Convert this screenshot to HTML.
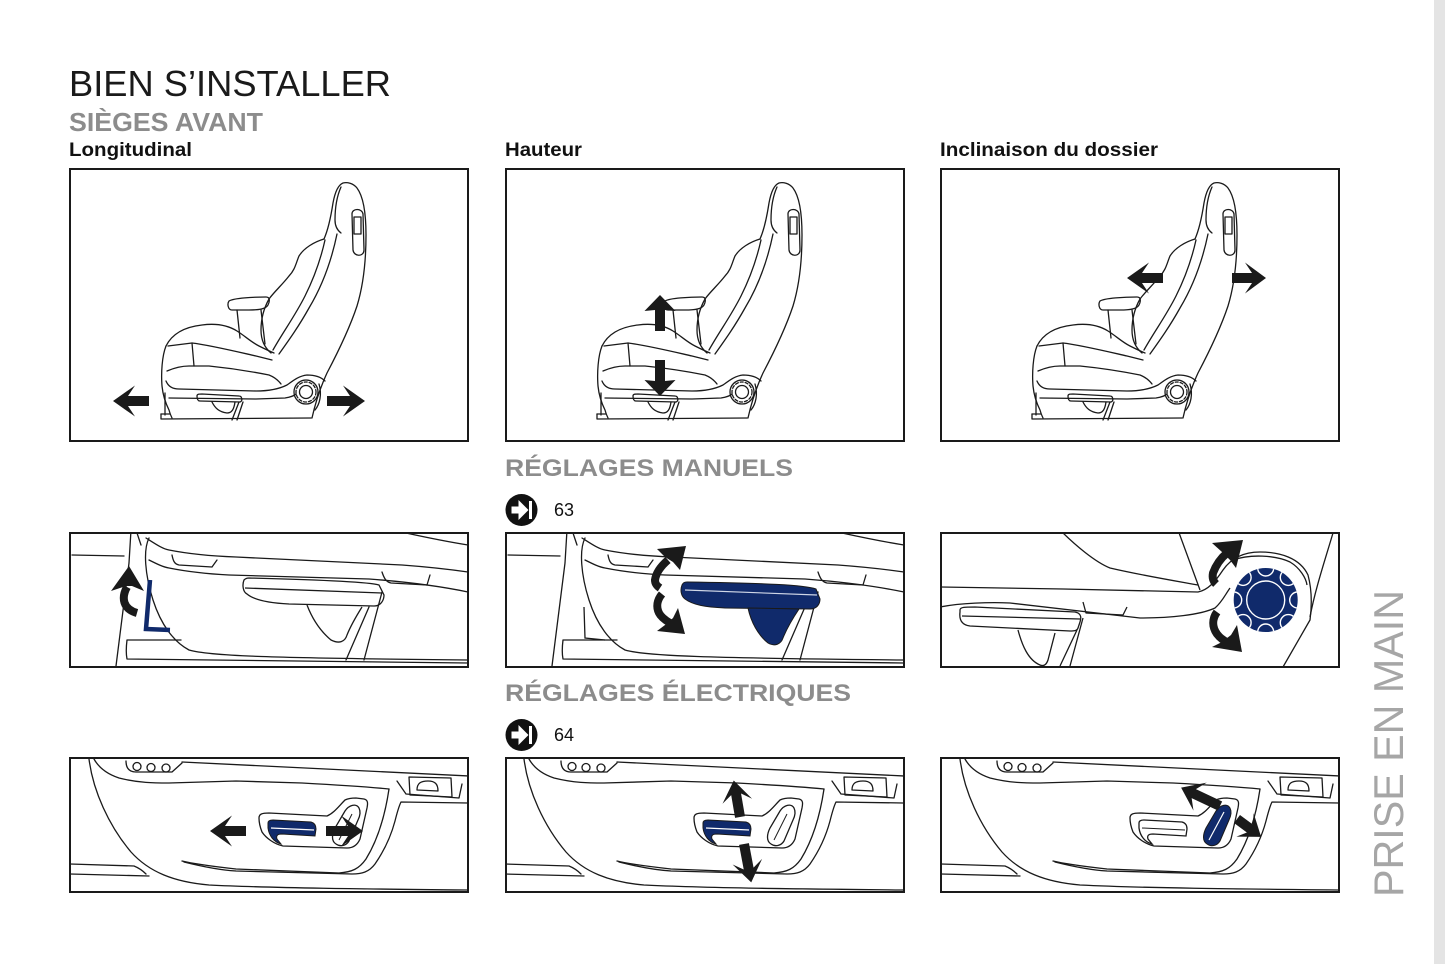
<!DOCTYPE html>
<html><head><meta charset="utf-8"><style>
html,body{margin:0;padding:0;background:#fff;}
svg{display:block;}
text{font-family:"Liberation Sans",Arial,sans-serif;}
</style></head><body>
<svg width="1445" height="964" viewBox="0 0 1445 964" xmlns="http://www.w3.org/2000/svg">
<defs>
<clipPath id="cpR2" clipPathUnits="userSpaceOnUse"><rect x="1" y="3" width="398" height="134"/></clipPath>
<clipPath id="cpR3" clipPathUnits="userSpaceOnUse"><rect x="1" y="2" width="398" height="134"/></clipPath>
<clipPath id="knobClip" clipPathUnits="userSpaceOnUse"><circle cx="325.7" cy="70" r="32"/></clipPath>

<g id="seat" fill="none" stroke="#1a1a1a" stroke-width="1.3" stroke-linejoin="round" stroke-linecap="round">
 <path d="M243,250 C247,232 252,218 258,205 C268,186 280,162 288,138 C295,115 297,90 297,67 C297,45 294,28 288,20 C284,15 278,14 274,15 C269,17 266,24 264,35 C262,48 259,62 255,71"/>
 <path d="M272,19 C268,28 266,40 266,52 C266,58 268,62 272,65"/>
 <path d="M283,46 C283,40 293,40 294,46 L295,82 C295,89 285,89 284,82 Z"/>
 <path d="M285,49 L292,49 L292,66 L285,66 Z"/>
 <path d="M255,71 C245,74 235,80 230,88 C227,95 226,102 220,108 C213,117 205,124 200,131 C195,140 192,150 192,162 C192,172 196,180 202,185"/>
 <path d="M256,72 C252,90 246,108 236,128 C226,148 214,164 204,182"/>
 <path d="M268,66 C262,95 252,120 240,140 C230,158 220,172 210,186"/>
 <path d="M160,133 C165,130 185,129 197,129 C201,129 201,133 199,137 C197,141 190,142 180,142 L163,142 C159,142 158,136 160,133 Z"/>
 <path d="M168,142 L171,170"/>
 <path d="M192,142 L196,176"/>
 <path d="M97,178 C103,166 115,159 133,157 C148,155 160,158 168,163 C176,168 182,174 190,178 C196,181 200,183 205,185"/>
 <path d="M97,178 C93,188 92,205 93,218 C94,228 97,236 100,242 C101,246 102,248 103,250"/>
 <path d="M99,178 L123,175 C140,177 165,183 187,188 L203,192"/>
 <path d="M123,175 L125,198"/>
 <path d="M98,203 C105,200 112,198 120,198 L140,198 C160,200 180,203 200,207 C205,209 209,212 212,216"/>
 <path d="M97,213 C99,218 103,221 110,221 L187,223 C200,223 210,221 218,217 C225,212 230,208 238,207 C246,207 252,209 256,213"/>
 <path d="M100,230 L187,231 L216,230 C222,229 225,228 227,226"/>
 <path d="M96,225 L96,247"/>
 <path d="M128,228 C128,226 130,226 133,226 L170,228 C173,228 174,233 171,234 L131,233 C129,233 128,231 128,228 Z"/>
 <path d="M143,234 C146,240 150,244 158,245 C163,245 165,241 166,234"/>
 <path d="M170,234 L163,252 M174,234 L168,252"/>
 <path d="M92,246 L92,251 L242,250"/>
 <path d="M92,246 L101,246"/>
 <circle cx="237" cy="224" r="12"/>
 <circle cx="237" cy="224" r="10" stroke-dasharray="3 2"/>
 <circle cx="237" cy="224" r="6.5"/>
 <path d="M250,216 C253,226 251,236 246,242"/>
</g>

<g id="door" fill="none" stroke="#1a1a1a" stroke-width="1.3" stroke-linejoin="round" stroke-linecap="round">
 <path d="M20,3 C24,35 40,70 62,96 C80,116 105,126 140,129 C200,132 300,133 399,134"/>
 <path d="M0,108 L65,110 C70,112 74,115 77,118"/>
 <path d="M0,118 L80,120"/>
 <path d="M25,3 C30,12 38,18 50,22 C70,27 85,27 100,27 L167,25 L233,27 C270,29 300,31 320,33"/>
 <path d="M113,6 C200,10 300,15 400,20"/>
 <path d="M57,5 C57,12 60,16 67,16 L103,16 L113,7"/>
 <circle cx="68" cy="10.5" r="4"/>
 <circle cx="82" cy="11.5" r="4"/>
 <circle cx="97" cy="12" r="4"/>
 <path d="M320,33 C316,60 308,85 297,103 C290,113 283,116 270,117 L167,113 C140,110 125,108 113,105"/>
 <path d="M115,106 C135,111 150,114 167,115 L283,118 C293,118 300,116 306,108 C315,95 322,80 326,65 C328,57 330,50 332,46 L400,47"/>
 <path d="M328,25 L337,38 L390,42 L393,28"/>
 <path d="M340,21 L382,22 L383,41 L341,39 Z"/>
 <path d="M348,34 C348,27 352,25 359,25 C366,25 369,28 369,35 Z"/>
 <path d="M190,62 C190,58 193,57 200,57 L258,60 C265,57 270,50 276,44 C278,43 282,42 287,42 L295,43 C299,44 299,47 298,52 L291,83 C288,90 283,92 278,92 L214,90 C205,88 197,82 193,76 C191,71 190,66 190,62 Z"/>
</g>

<path id="baseSw" d="M199,67 C199,65 201,64 204,64 L242,66 C246,67 247,70 247,73 L246,80 L213,78 C208,78 207,80 208,83 L212,88 C205,86 200,80 199,72 Z"/>
<path id="backSw" d="M267,88 C262,85 263,78 266,72 L276,55 C280,49 287,47 290,52 C292,56 291,60 289,64 L280,85 C277,90 271,91 267,88 Z"/>

<g id="manBase" fill="none" stroke="#1a1a1a" stroke-width="1.3" stroke-linejoin="round" stroke-linecap="round">
 <path d="M3,25 L55,26"/>
 <path d="M62,0 L60,33 L47,136"/>
 <path d="M67,0 L72,15"/>
 <path d="M80,8 C74,20 76,45 84,70 C92,95 105,112 120,120 C140,126 200,128 399,130"/>
 <path d="M58,110 L112,110 M58,110 C57,118 57,124 58,129 L399,133"/>
 <path d="M77,8 C88,15 94,19 100,20 C120,24 140,26 167,27 L333,35 C360,37 385,40 399,42"/>
 <path d="M80,30 C88,34 94,37 100,38 C120,42 140,44 160,45 L300,49 C340,52 370,56 399,62"/>
 <path d="M337,3 C360,8 380,12 399,15"/>
 <path d="M103,25 C104,30 105,34 110,35 L143,37 L148,30"/>
 <path d="M313,42 C315,48 317,52 322,53 L358,55 L361,45"/>
 <path d="M313,62 L295,130"/>
 <path d="M300,77 L277,130"/>
</g>
</defs>

<!-- side strip -->
<rect x="1434" y="0" width="11" height="964" fill="#e4e4e4"/>

<!-- titles -->
<text x="69" y="96" font-size="36" fill="#1a1a1a" textLength="322" lengthAdjust="spacingAndGlyphs">BIEN S’INSTALLER</text>
<text x="69" y="131" font-size="26" font-weight="bold" fill="#8c8c8c" textLength="194" lengthAdjust="spacingAndGlyphs">SIÈGES AVANT</text>
<text x="69" y="156" font-size="19.5" font-weight="bold" fill="#111" textLength="123" lengthAdjust="spacingAndGlyphs">Longitudinal</text>
<text x="505" y="156" font-size="19.5" font-weight="bold" fill="#111" textLength="77" lengthAdjust="spacingAndGlyphs">Hauteur</text>
<text x="940" y="156" font-size="19.5" font-weight="bold" fill="#111" textLength="218" lengthAdjust="spacingAndGlyphs">Inclinaison du dossier</text>

<!-- Row 1 seats -->
<use href="#seat" transform="translate(69,168)"/>
<use href="#seat" transform="translate(505,168)"/>
<use href="#seat" transform="translate(940,168)"/>

<g fill="#1a1a1a">
 <g transform="translate(69,168)">
  <polygon transform="translate(80,233) rotate(180)" points="0,-5 21,-5 14,-15.5 36,0 14,15.5 21,5 0,5"/>
  <polygon transform="translate(258,233)" points="0,-5 23,-5 16,-15.5 38,0 16,15.5 23,5 0,5"/>
 </g>
 <g transform="translate(505,168)">
  <polygon transform="translate(155,163) rotate(-90)" points="0,-5 21,-5 20,-15.5 36,0 20,15.5 21,5 0,5"/>
  <polygon transform="translate(155,192) rotate(90)" points="0,-5 21,-5 20,-15.5 36,0 20,15.5 21,5 0,5"/>
 </g>
 <g transform="translate(940,168)">
  <polygon transform="translate(223,110) rotate(180)" points="0,-5 21,-5 14,-15.5 36,0 14,15.5 21,5 0,5"/>
  <polygon transform="translate(292,110)" points="0,-5 20,-5 13,-15.5 34,0 13,15.5 20,5 0,5"/>
 </g>
</g>

<g fill="none" stroke="#1a1a1a" stroke-width="2">
 <rect x="70" y="169" width="398" height="272"/>
 <rect x="506" y="169" width="398" height="272"/>
 <rect x="941" y="169" width="398" height="272"/>
</g>

<!-- RÉGLAGES MANUELS -->
<text x="505" y="476" font-size="24" font-weight="bold" fill="#8c8c8c" textLength="288" lengthAdjust="spacingAndGlyphs">RÉGLAGES MANUELS</text>
<g transform="translate(521.5,510)">
 <circle r="16" fill="#111"/>
 <rect x="-10" y="-3.5" width="9" height="7" fill="#fff"/>
 <polygon points="-3,-10 7,0 -3,10" fill="#fff"/>
 <rect x="7.5" y="-9" width="3" height="18" fill="#fff"/>
</g>
<text x="554" y="516" font-size="18" fill="#111">63</text>

<!-- Row 2 -->
<g transform="translate(69,530)">
 <g clip-path="url(#cpR2)">
  <use href="#manBase"/>
  <path d="M175,50 C173,55 174,62 178,64 C185,70 200,73 220,74 L305,76 C312,76 315,70 315,65 L310,55 C300,52 260,50 180,48 C178,48 176,49 175,50 Z M176,58 L313,63 M238,75 C243,88 250,100 262,110 C270,114 276,112 278,105 C282,95 288,85 293,77" fill="none" stroke="#1a1a1a" stroke-width="1.3"/>
  <path d="M81,50 L77,99 L101,100" fill="none" stroke="#102a6b" stroke-width="4.5"/>
  <path d="M58,57 C52,68 54,79 68,83" fill="none" stroke="#1a1a1a" stroke-width="8"/>
  <polygon points="42,61 60,36 75,61 63,56 57,56" fill="#1a1a1a"/>
 </g>
 <rect x="1" y="3" width="398" height="134" fill="none" stroke="#1a1a1a" stroke-width="2"/>
</g>

<g transform="translate(505,530)">
 <g clip-path="url(#cpR2)">
  <use href="#manBase"/>
  <path d="M79,77 L80,108 L100,110" fill="none" stroke="#1a1a1a" stroke-width="1.3"/>
  <path d="M177,55 C175,60 176,66 180,69 C188,75 200,77 220,78 L305,79 C312,79 315,74 315,69 L311,59 C300,55 260,53 182,52 C179,52 178,53 177,55 Z" fill="#102a6b" stroke="#1a1a1a" stroke-width="1"/>
  <path d="M180,60 L312,65" stroke="#cfd6e6" stroke-width="1.2"/>
  <path d="M243,78 C246,92 253,105 263,113 C270,117 276,114 278,108 C282,98 288,88 294,79 Z" fill="#102a6b" stroke="#1a1a1a" stroke-width="1"/>
  <path d="M163,30 C156,36 151,43 150,50 C150,54 152,56 155,58" fill="none" stroke="#1a1a1a" stroke-width="8"/>
  <polygon points="152,19 181,16 175,40 168,32 160,27" fill="#1a1a1a"/>
  <path d="M157,64 C152,70 151,77 154,83 C156,87 160,90 165,93" fill="none" stroke="#1a1a1a" stroke-width="8"/>
  <polygon points="152,101 180,104 173,78 168,88 160,95" fill="#1a1a1a"/>
 </g>
 <rect x="1" y="3" width="398" height="134" fill="none" stroke="#1a1a1a" stroke-width="2"/>
</g>

<g transform="translate(940,530)">
 <g clip-path="url(#cpR2)">
  <g fill="none" stroke="#1a1a1a" stroke-width="1.3" stroke-linejoin="round">
   <path d="M120,0 C135,15 155,32 170,38 C200,45 230,50 258,55"/>
   <path d="M238,0 L260,60"/>
   <path d="M0,57 C80,58 180,60 258,62 C268,60 275,52 283,40 C292,27 305,22 320,22 C340,22 360,28 368,45 C372,60 372,75 370,90 L343,137"/>
   <path d="M293,30 C310,24 335,25 350,32 C360,38 366,48 367,55"/>
   <path d="M393,3 C385,30 375,60 370,87"/>
   <path d="M0,77 C20,73 50,72 70,73 L200,88 C230,88 260,85 275,78 C282,72 285,65 290,58"/>
   <path d="M20,80 C20,77 25,77 35,77 L135,82 C140,83 142,86 140,92 L138,98 C137,101 134,101 130,101 L30,96 C22,95 19,90 20,82 Z"/>
   <path d="M22,86 L140,89"/>
   <path d="M78,100 C82,115 88,130 100,135 C105,137 107,133 108,130 L115,103"/>
   <path d="M143,88 L130,136 M137,100 L120,136"/>
   <path d="M143,72 L146,83 L183,85 L187,77"/>
  </g>
  <circle cx="325.7" cy="70" r="32" fill="#102a6b"/>
  <g clip-path="url(#knobClip)" fill="none" stroke="#fff" stroke-width="1.4">
   <circle cx="357.7" cy="70" r="8"/>
   <circle cx="348.3" cy="92.6" r="8"/>
   <circle cx="325.7" cy="102" r="8"/>
   <circle cx="303.1" cy="92.6" r="8"/>
   <circle cx="293.7" cy="70" r="8"/>
   <circle cx="303.1" cy="47.4" r="8"/>
   <circle cx="325.7" cy="38" r="8"/>
   <circle cx="348.3" cy="47.4" r="8"/>
  </g>
  <circle cx="325.7" cy="70" r="19" fill="none" stroke="#fff" stroke-width="1.4"/>
  <path d="M287,23 C281,28 276,35 273,43 C272,48 273,51 276,54" fill="none" stroke="#1a1a1a" stroke-width="8"/>
  <polygon points="272,13 303,10 296,38 290,30 282,22" fill="#1a1a1a"/>
  <path d="M277,82 C272,89 272,97 277,104 C280,108 284,111 289,113" fill="none" stroke="#1a1a1a" stroke-width="8"/>
  <polygon points="272,117 302,122 297,95 291,105 282,112" fill="#1a1a1a"/>
 </g>
 <rect x="1" y="3" width="398" height="134" fill="none" stroke="#1a1a1a" stroke-width="2"/>
</g>

<!-- RÉGLAGES ÉLECTRIQUES -->
<text x="505" y="701" font-size="24" font-weight="bold" fill="#8c8c8c" textLength="346" lengthAdjust="spacingAndGlyphs">RÉGLAGES ÉLECTRIQUES</text>
<g transform="translate(521.5,735)">
 <circle r="16" fill="#111"/>
 <rect x="-10" y="-3.5" width="9" height="7" fill="#fff"/>
 <polygon points="-3,-10 7,0 -3,10" fill="#fff"/>
 <rect x="7.5" y="-9" width="3" height="18" fill="#fff"/>
</g>
<text x="554" y="741" font-size="18" fill="#111">64</text>

<!-- Row 3 -->
<g transform="translate(69,756)">
 <g clip-path="url(#cpR3)">
  <use href="#door"/>
  <use href="#baseSw" fill="#102a6b" stroke="#1a1a1a" stroke-width="1"/>
  <path d="M202,72 L245,74" stroke="#fff" stroke-width="1.2"/>
  <use href="#backSw" fill="none" stroke="#1a1a1a" stroke-width="1.3"/>
  <path d="M270,84 L283,58" stroke="#1a1a1a" stroke-width="1"/>
  <g fill="#1a1a1a">
   <polygon transform="translate(177,75) rotate(180)" points="0,-5 21,-5 14,-15.5 36,0 14,15.5 21,5 0,5"/>
   <polygon transform="translate(257,75)" points="0,-5 22,-5 15,-15.5 37,0 15,15.5 22,5 0,5"/>
  </g>
 </g>
 <rect x="1" y="2" width="398" height="134" fill="none" stroke="#1a1a1a" stroke-width="2"/>
</g>

<g transform="translate(504,756)">
 <g clip-path="url(#cpR3)">
  <use href="#door"/>
  <use href="#baseSw" fill="#102a6b" stroke="#1a1a1a" stroke-width="1"/>
  <path d="M202,72 L245,74" stroke="#fff" stroke-width="1.2"/>
  <use href="#backSw" fill="none" stroke="#1a1a1a" stroke-width="1.3"/>
  <path d="M270,84 L283,58" stroke="#1a1a1a" stroke-width="1"/>
  <g fill="#1a1a1a">
   <polygon transform="translate(236,61) rotate(-99.7)" points="0,-5 23,-5 16,-15 37,0 16,15 23,5 0,5"/>
   <polygon transform="translate(240,88) rotate(79.3)" points="0,-5 25,-5 18,-15 39,0 18,15 25,5 0,5"/>
  </g>
 </g>
 <rect x="2" y="2" width="398" height="134" fill="none" stroke="#1a1a1a" stroke-width="2"/>
</g>

<g transform="translate(940,756)">
 <g clip-path="url(#cpR3)">
  <use href="#door"/>
  <use href="#baseSw" fill="none" stroke="#1a1a1a" stroke-width="1.3"/>
  <path d="M202,72 L245,74" stroke="#1a1a1a" stroke-width="1"/>
  <use href="#backSw" fill="#102a6b" stroke="#1a1a1a" stroke-width="1"/>
  <path d="M269,84 L284,56" stroke="#fff" stroke-width="1.2"/>
  <g fill="#1a1a1a">
   <polygon transform="translate(280,50) rotate(205.3)" points="0,-5 29,-5 22,-15.5 43,0 22,15.5 29,5 0,5"/>
   <polygon transform="translate(297,63) rotate(36.5)" points="0,-5 16,-5 10,-14.5 30,0 10,14.5 16,5 0,5"/>
  </g>
 </g>
 <rect x="1" y="2" width="398" height="134" fill="none" stroke="#1a1a1a" stroke-width="2"/>
</g>

<!-- vertical side label -->
<text transform="translate(1403,897) rotate(-90)" x="0" y="0" font-size="42" fill="#a6a6a6" textLength="307" lengthAdjust="spacingAndGlyphs">PRISE EN MAIN</text>
</svg>
</body></html>
